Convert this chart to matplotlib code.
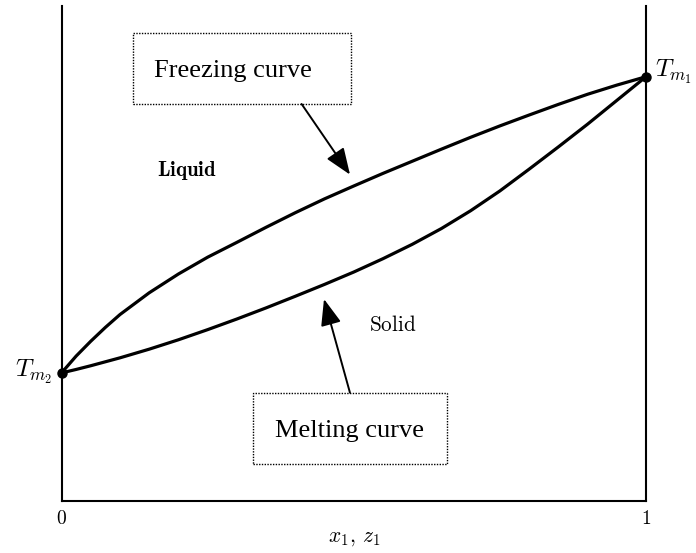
import matplotlib
matplotlib.use("Agg")
import matplotlib.pyplot as plt
from matplotlib.patches import Rectangle

plt.rcParams['mathtext.fontset'] = 'cm'

# Composition (mole fraction of component 1)
x_comp = [0.0, 0.025, 0.05, 0.075, 0.10, 0.15, 0.20, 0.25, 0.30, 0.35, 0.40, 0.45, 0.50,
          0.55, 0.60, 0.65, 0.70, 0.75, 0.80, 0.85, 0.90, 0.95, 1.0]
# Freezing (liquidus) curve temperatures
T_freeze = [25.8, 29.2, 32.2, 35.0, 37.6, 42.0, 45.8, 49.2, 52.2, 55.25, 58.2, 61.0, 63.6,
            66.15, 68.6, 71.05, 73.45, 75.75, 77.95, 80.1, 82.15, 84.0, 85.7]
# Melting (solidus) curve temperatures
T_melt = [25.8, 26.5, 27.25, 28.05, 28.85, 30.6, 32.5, 34.55, 36.7, 38.95, 41.3, 43.7, 46.2,
          48.9, 51.8, 55.0, 58.6, 62.6, 67.0, 71.5, 76.1, 80.9, 85.7]
x_ends = [0.0, 1.0]
T_ends = [25.8, 85.7]
tick_pos = [0, 1]
tick_labels = ['$0$', '$1$']

fig = plt.figure(figsize=(6.96, 5.53), dpi=100)
ax = fig.add_axes([61.5/696, (553-500.5)/553, 584.5/696, 494.5/553])
ax.set_xlim(0, 1)
ax.set_ylim(0, 100)
ax.spines['top'].set_visible(False)
for s in ['left', 'right', 'bottom']:
    ax.spines[s].set_linewidth(1.5)
ax.set_yticks([])
ax.set_xticks(tick_pos)
ax.set_xticklabels(tick_labels, fontsize=14)
ax.tick_params(axis='x', length=0, pad=6)
ax.set_xlabel(r'$x_1,\, z_1$', fontsize=15.5, labelpad=0)

ax.plot(x_comp, T_freeze, color='black', lw=2.3, solid_capstyle='round',
        solid_joinstyle='round')
ax.plot(x_comp, T_melt, color='black', lw=2.3, solid_capstyle='round',
        solid_joinstyle='round')
ax.plot(x_ends, T_ends, 'o', color='black', ms=6.5, clip_on=False, zorder=5)

ax.text(1.0153, 0.8567, r'$T_{m_1}$', transform=ax.transAxes, fontsize=18,
        ha='left', va='baseline')
ax.text(-0.0163, 0.2504, r'$T_{m_2}$', transform=ax.transAxes, fontsize=18,
        ha='right', va='baseline')

ax.text(0.2139, 0.6562, r'$\mathbf{Liquid}$', transform=ax.transAxes,
        fontsize=15, ha='center', va='baseline')
ax.text(0.5668, 0.3434, r'$\mathrm{Solid}$', transform=ax.transAxes,
        fontsize=15.3, ha='center', va='baseline')

serif = ['Liberation Serif', 'DejaVu Serif']
ax.add_patch(Rectangle((0.1223, 0.8018), 0.4953-0.1223, 0.9454-0.8018,
                       transform=ax.transAxes, fill=False, lw=1.0,
                       ls=(0, (1, 1)), edgecolor='black', clip_on=False))
ax.text(0.2939, 0.8558, 'Freezing curve', transform=ax.transAxes,
        fontsize=19, family=serif, ha='center', va='baseline')
ax.add_patch(Rectangle((0.3281, 0.0732), 0.6590-0.3281, 0.2180-0.0732,
                       transform=ax.transAxes, fill=False, lw=1.0,
                       ls=(0, (1, 1)), edgecolor='black', clip_on=False))
ax.text(0.4919, 0.1290, 'Melting curve', transform=ax.transAxes,
        fontsize=19, family=serif, ha='center', va='baseline')

arrow = dict(arrowstyle='-|>,head_length=0.9,head_width=0.35', color='black',
             lw=1.4, shrinkA=0, shrinkB=0, mutation_scale=18)
ax.annotate('', xy=(0.4936, 0.6590), xytext=(0.4108, 0.8018),
            xycoords='axes fraction', textcoords='axes fraction', arrowprops=arrow)
ax.annotate('', xy=(0.4491, 0.4074), xytext=(0.4935, 0.2180),
            xycoords='axes fraction', textcoords='axes fraction', arrowprops=arrow)

fig.savefig('out.png', dpi=100, facecolor='white')
